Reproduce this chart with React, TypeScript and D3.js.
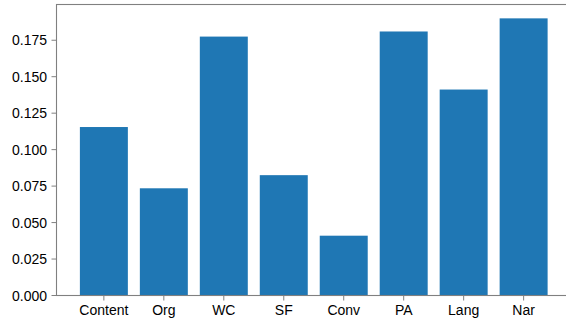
import React from "react";
import * as d3 from "d3";

const categories = ["Content", "Org", "WC", "SF", "Conv", "PA", "Lang", "Nar"];
const values = [0.1155, 0.0735, 0.1775, 0.0825, 0.0410, 0.1810, 0.1412, 0.1900];
const yTicks = [0, 0.025, 0.05, 0.075, 0.1, 0.125, 0.15, 0.175];

const W = 566;
const H = 320;
const left = 56.5;
const right = 571;
const top = 4.5;
const bottom = 295.5;

export default function App() {
  const x = d3.scaleLinear().domain([-0.79, categories.length - 1 + 0.79]).range([left, right]);
  const y = d3.scaleLinear().domain([0, d3.max(values)! * 1.05]).range([bottom, top]);
  const fmt = d3.format(".3f");
  const font = "'Liberation Sans', Arial, Helvetica, sans-serif";
  const spine = "#808080";
  return (
    <svg
      width={W}
      height={H}
      style={{ position: "absolute", left: 0, top: 0, background: "#fff", overflow: "hidden" }}
    >
      {values.map((v, i) => (
        <rect
          key={categories[i]}
          x={x(i - 0.4)}
          y={y(v)}
          width={x(i + 0.4) - x(i - 0.4)}
          height={y(0) - y(v)}
          fill="#1f77b4"
        />
      ))}
      <rect x={left} y={top} width={right - left} height={bottom - top} fill="none" stroke={spine} strokeWidth={1.1} />
      {yTicks.map((t) => (
        <g key={t}>
          <line x1={left - 5} x2={left} y1={y(t)} y2={y(t)} stroke={spine} strokeWidth={1} />
          <text
            x={left - 9.5}
            y={y(t)}
            textAnchor="end"
            dominantBaseline="central"
            fontFamily={font}
            fontSize={14}
            fill="#000"
          >
            {fmt(t)}
          </text>
        </g>
      ))}
      {categories.map((c, i) => (
        <g key={c}>
          <line x1={x(i)} x2={x(i)} y1={bottom} y2={bottom + 5} stroke={spine} strokeWidth={1} />
          <text
            x={x(i)}
            y={bottom + 14}
            textAnchor="middle"
            dominantBaseline="central"
            fontFamily={font}
            fontSize={14}
            fill="#000"
          >
            {c}
          </text>
        </g>
      ))}
    </svg>
  );
}
